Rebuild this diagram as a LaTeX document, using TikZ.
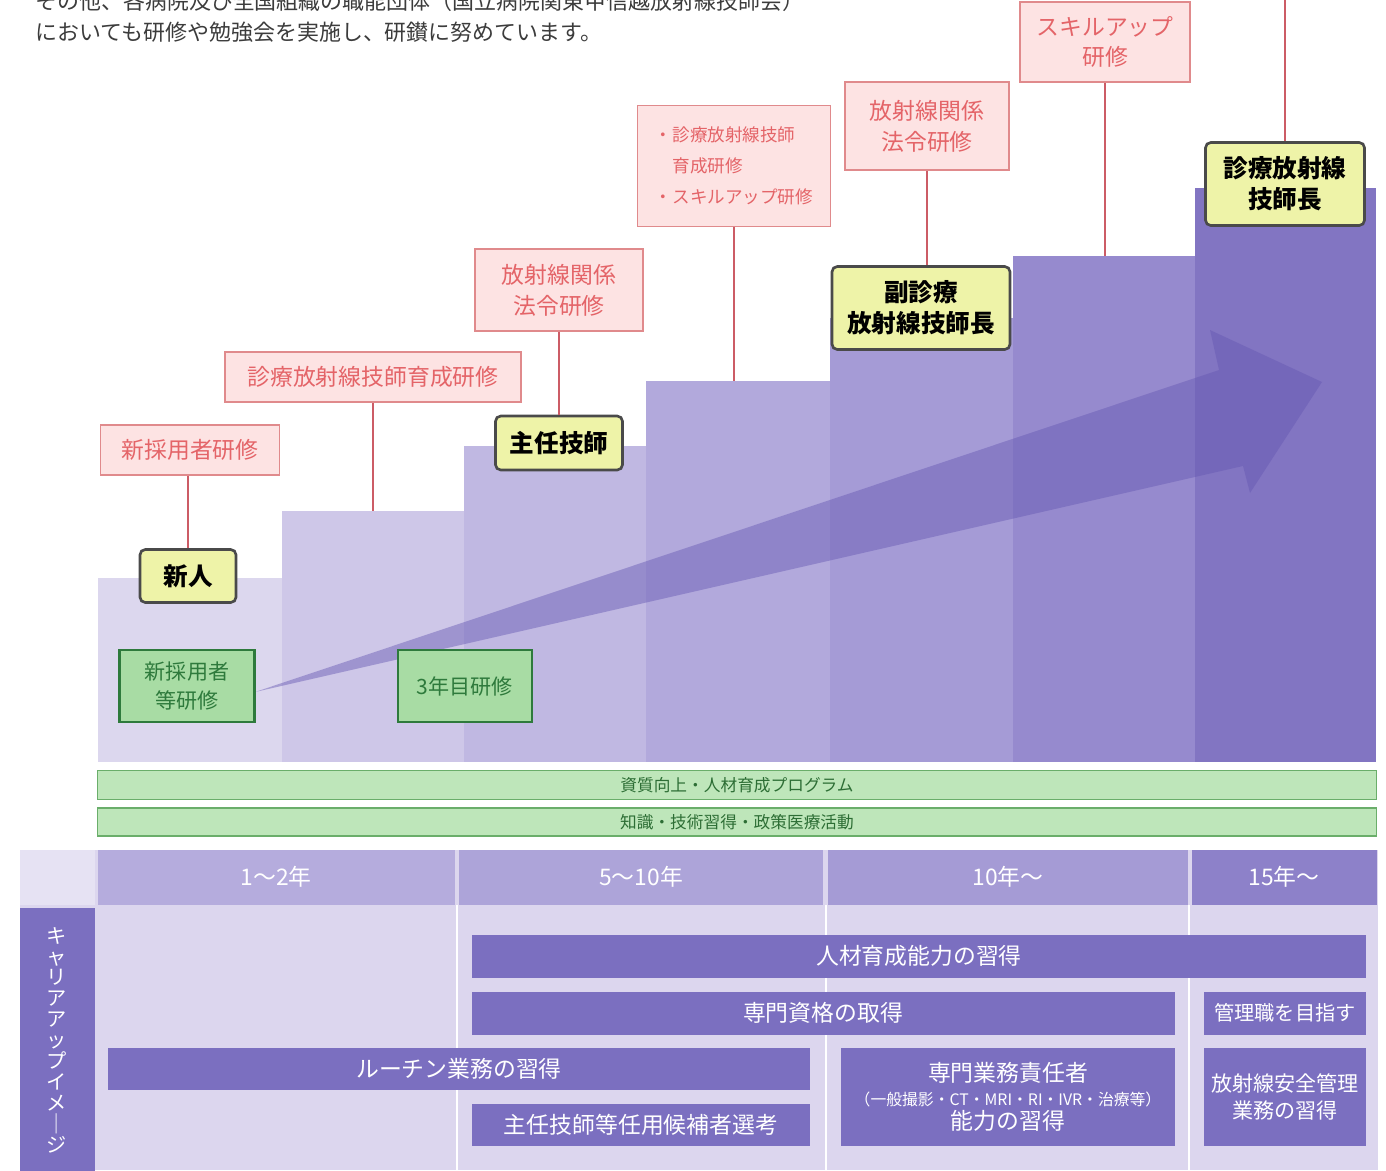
\documentclass[tikz,border=0pt]{standalone}
\usepackage{fontspec}
\setmainfont{Noto Sans CJK JP}
\definecolor{st1}{HTML}{DCD7EE}
\definecolor{st2}{HTML}{CEC7E8}
\definecolor{st3}{HTML}{C0B8E2}
\definecolor{st4}{HTML}{B2A9DC}
\definecolor{st5}{HTML}{A59BD6}
\definecolor{st6}{HTML}{968ACE}
\definecolor{st7}{HTML}{8275C2}
\definecolor{arrowc}{HTML}{6557B2}
\definecolor{pkfill}{HTML}{FDE3E3}
\definecolor{pkline}{HTML}{E08A8C}
\definecolor{pktext}{HTML}{E46468}
\definecolor{pklink}{HTML}{CC5C66}
\definecolor{yfill}{HTML}{EEF3A8}
\definecolor{ybord}{HTML}{4A4A4A}
\definecolor{gfill}{HTML}{A8DCA4}
\definecolor{gbord}{HTML}{2E7A3C}
\definecolor{gbfill}{HTML}{BEE6BA}
\definecolor{gbbord}{HTML}{6AAE6A}
\definecolor{gbtext}{HTML}{2D6E35}
\definecolor{tabbg}{HTML}{DCD6EE}
\definecolor{tabcorner}{HTML}{E6E2F3}
\definecolor{barc}{HTML}{7B6FC0}
\definecolor{hd1}{HTML}{B5ACDD}
\definecolor{hd2}{HTML}{ADA4D9}
\definecolor{hd3}{HTML}{A59BD5}
\definecolor{hd4}{HTML}{8D81C9}
\definecolor{toptext}{HTML}{3C3C3C}

\begin{document}
\begin{tikzpicture}[x=0.02cm, y=-0.02cm,
    wh/.style 2 args={minimum width=(#1)*0.02cm, minimum height=(#2)*0.02cm},
    stepbar/.style={inner sep=0pt, outer sep=0pt},
    pink/.style={draw=pkline, fill=pkfill, text=pktext, line width=1pt, inner sep=0pt, align=center, font=\fontsize{13}{17.5}\selectfont},
    yell/.style={draw=ybord, fill=yfill, line width=1.5pt, rounded corners=3pt, inner sep=0pt, align=center, font=\bfseries\fontsize{14}{17.5}\selectfont},
    grn/.style={draw=gbord, fill=gfill, text=gbord, line width=1.2pt, inner sep=0pt, align=center, font=\fontsize{12}{16}\selectfont},
    gbar/.style={draw=gbbord, fill=gbfill, text=gbtext, line width=0.8pt, inner sep=0pt, font=\fontsize{9.5}{11}\selectfont},
    head/.style={text=white, inner sep=0pt, font=\fontsize{13}{15}\selectfont},
    bar/.style={fill=barc, text=white, inner sep=0pt, align=center, font=\fontsize{13}{15.5}\selectfont},
    link/.style={draw=pklink, line width=0.9pt}]
    \useasboundingbox (0,0) rectangle (1386,1170);
    \clip (0,0) rectangle (1386,1170);

    \node[anchor=west, text=toptext, inner sep=0pt, font=\fontsize{12.5}{14}\selectfont] (intro1) at (35,1) {その他、各病院及び全国組織の職能団体（国立病院関東甲信越放射線技師会）};
    \node[anchor=west, text=toptext, inner sep=0pt, font=\fontsize{12.5}{14}\selectfont] (intro2) at (35,32) {においても研修や勉強会を実施し、研鑚に努めています。};

    \foreach \xa/\xb/\yt [count=\i] in {98/282/578, 282/464/511, 464/646/446, 646/830/381, 830/1013/318, 1013/1195/256, 1195/1376/188}
        \node[stepbar, fill=st\i, anchor=south west, wh={\xb-\xa}{762-\yt}] (st\i) at (\xa,762) {};

    \fill[arrowc, opacity=0.45] (255,692) -- (1219,370) -- (1210,330) -- (1322,382) -- (1250,493) -- (1243,466) -- cycle;

    \node[pink, wh={179}{50}] (pk1) at (190,450) {新採用者研修};
    \node[pink, wh={296}{50}] (pk2) at (373,377) {診療放射線技師育成研修};
    \node[pink, wh={168}{82}] (pk3) at (559,290) {放射線関係\\法令研修};
    \node[pink, wh={193}{121}, align=left, font=\fontsize{10}{17.5}\selectfont] (pk4) at (734,166) {・診療放射線技師\\\hspace{1em}育成研修\\・スキルアップ研修};
    \node[pink, wh={164}{88}] (pk5) at (927,126) {放射線関係\\法令研修};
    \node[pink, wh={170}{80}] (pk6) at (1105,42) {スキルアップ\\研修};
    \coordinate (top7) at (1285,0);

    \node[yell, wh={96}{53}] (n1) at (188,576) {新人};
    \node[yell, wh={127}{54}] (y2) at (559,443) {主任技師};
    \node[yell, wh={178}{83}] (y3) at (921,308) {副診療\\放射線技師長};
    \node[yell, wh={159}{83}] (y4) at (1285,184) {診療放射線\\技師長};

    \draw[link] (n1.north |- pk1.south) -- (n1.north);
    \draw[link] (pk2.south) -- (pk2.south |- st2.north);
    \draw[link] (pk3.south) -- (pk3.south |- y2.north);
    \draw[link] (pk4.south) -- (pk4.south |- st4.north);
    \draw[link] (pk5.south) -- (pk5.south |- y3.north);
    \draw[link] (pk6.south) -- (pk6.south |- st6.north);
    \draw[link] (top7) -- (y4.north);

    \node[grn, wh={135}{72}] (g1) at (187,686) {新採用者\\等研修};
    \node[grn, wh={134}{72}] (g2) at (465,686) {3年目研修};

    \node[gbar, wh={1279}{29}] (gb1) at (737,785) {資質向上・人材育成プログラム};
    \node[gbar, wh={1279}{28}] (gb2) at (737,822) {知識・技術習得・政策医療活動};

    \fill[tabbg] (20,850) rectangle (1378,1170);
    \node[fill=tabcorner, inner sep=0pt, wh={75}{55}] (corner) at (57,877) {};
    \node[fill=barc, inner sep=0pt, wh={75}{263}] (side) at (57,1039) {};
    \node[text=white, inner sep=0pt, align=center, font=\fontsize{11.5}{11.9}\selectfont] (sidelab) at (57,1040) {キ\\ャ\\リ\\ア\\ア\\ッ\\プ\\イ\\メ\\｜\\ジ};

    \node[head, fill=hd1, wh={357}{55}] (h1) at (276,877) {1〜2年};
    \node[head, fill=hd2, wh={364}{55}] (h2) at (641,877) {5〜10年};
    \node[head, fill=hd3, wh={360}{55}] (h3) at (1008,877) {10年〜};
    \node[head, fill=hd4, wh={185}{55}] (h4) at (1284,877) {15年〜};
    \foreach \c in {h2,h3,h4}
        \draw[white, line width=1.2pt] ([xshift=-0.04cm]\c.south west) -- ++(0,265);

    \node[bar, wh={894}{43}] (b1) at (919,956) {人材育成能力の習得};
    \node[bar, wh={703}{43}] (b2) at (823,1013) {専門資格の取得};
    \node[bar, wh={162}{43}, font=\fontsize{11.5}{14}\selectfont] (b3) at (1285,1013) {管理職を目指す};
    \node[bar, wh={702}{42}] (b4) at (459,1069) {ルーチン業務の習得};
    \node[bar, wh={338}{42}] (b5) at (641,1125) {主任技師等任用候補者選考};
    \node[bar, wh={334}{98}] (b6) at (1008,1097) {専門業務責任者\\[-2pt]{\fontsize{9}{11}\selectfont（一般撮影・CT・MRI・RI・IVR・治療等）}\\[-2pt]能力の習得};
    \node[bar, wh={162}{98}, font=\fontsize{12}{15}\selectfont] (b7) at (1285,1097) {放射線安全管理\\業務の習得};
\end{tikzpicture}
\end{document}
